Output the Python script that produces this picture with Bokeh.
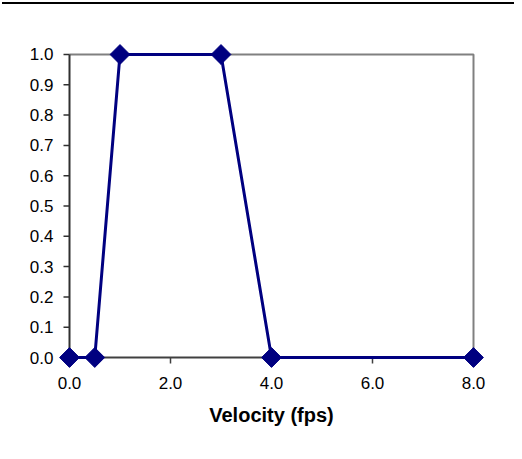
from bokeh.plotting import figure
from bokeh.models import Div, Range1d, FixedTicker, NumeralTickFormatter
from bokeh.layouts import column
from bokeh.embed import file_html
from bokeh.resources import INLINE
import math

velocity = [0.0, 0.5, 1.0, 3.0, 4.0, 8.0]
fraction = [0.0, 0.0, 1.0, 1.0, 0.0, 0.0]
x_ticks = [0, 2, 4, 6, 8]
y_ticks = [0.0, 0.1, 0.2, 0.3, 0.4, 0.5, 0.6, 0.7, 0.8, 0.9, 1.0]
x_label = "Velocity (fps)"

XMIN, XMAX = 0.0, 8.0
YMIN, YMAX = 0.0, 1.0
PX_X = 50.5    # pixels per x unit
PX_Y = 303.4   # pixels per y unit
PAD = 12
padx = PAD / PX_X
pady = PAD / PX_Y
TICK = 6

p = figure(width=514, height=437, frame_width=428, frame_height=327,
           output_backend="svg", toolbar_location=None,
           x_range=Range1d(XMIN - padx, XMAX + padx),
           y_range=Range1d(YMIN - pady, YMAX + pady),
           min_border_left=57, min_border_right=29, min_border_top=30, min_border_bottom=80)
p.outline_line_color = None
p.grid.visible = False
p.background_fill_color = "white"

FONT = "Liberation Sans"
for ax in (p.xaxis[0], p.yaxis[0]):
    ax.axis_line_color = None
    ax.major_tick_line_color = None
    ax.minor_tick_line_color = None
    ax.major_tick_in = 0
    ax.major_tick_out = 0
    ax.major_label_text_font = FONT
    ax.major_label_text_font_size = "17px"
    ax.major_label_text_color = "black"
    ax.formatter = NumeralTickFormatter(format="0.0")

p.xaxis[0].ticker = FixedTicker(ticks=x_ticks)
p.yaxis[0].ticker = FixedTicker(ticks=y_ticks)
p.xaxis[0].major_label_standoff = 7
p.yaxis[0].major_label_standoff = 4
p.xaxis[0].axis_label = x_label
p.xaxis[0].axis_label_text_font = FONT
p.xaxis[0].axis_label_text_font_style = "bold"
p.xaxis[0].axis_label_text_font_size = "20px"
p.xaxis[0].axis_label_standoff = 12
p.xaxis[0].axis_label_text_color = "black"

# plot-area border (top and right)
p.line([XMIN, XMAX, XMAX], [YMAX, YMAX, YMIN], line_color="#808080", line_width=2)
# axis lines at the data origin
p.line([XMIN, XMAX], [YMIN, YMIN], line_color="#404040", line_width=2)
p.line([XMIN, XMIN], [YMIN, YMAX], line_color="#303030", line_width=2)
# outward tick marks
p.segment(x0=[XMIN - TICK / PX_X] * len(y_ticks), y0=y_ticks,
          x1=[XMIN] * len(y_ticks), y1=y_ticks, line_color="#303030", line_width=1.5)
p.segment(x0=x_ticks, y0=[YMIN - TICK / PX_Y] * len(x_ticks),
          x1=x_ticks, y1=[YMIN] * len(x_ticks), line_color="#404040", line_width=1.5)

p.line(velocity, fraction, line_color="#000080", line_width=3)
p.scatter(velocity, fraction, marker="square", size=14, angle=math.pi / 4,
          fill_color="#000080", line_color="#000080")

top_rule = Div(text="", width=512, height=2,
               styles={"border-top": "2px solid #000", "position": "relative",
                       "left": "-3px", "top": "-3px"})

layout = column(top_rule, p)
open("out.html", "w").write(file_html(layout, INLINE))
